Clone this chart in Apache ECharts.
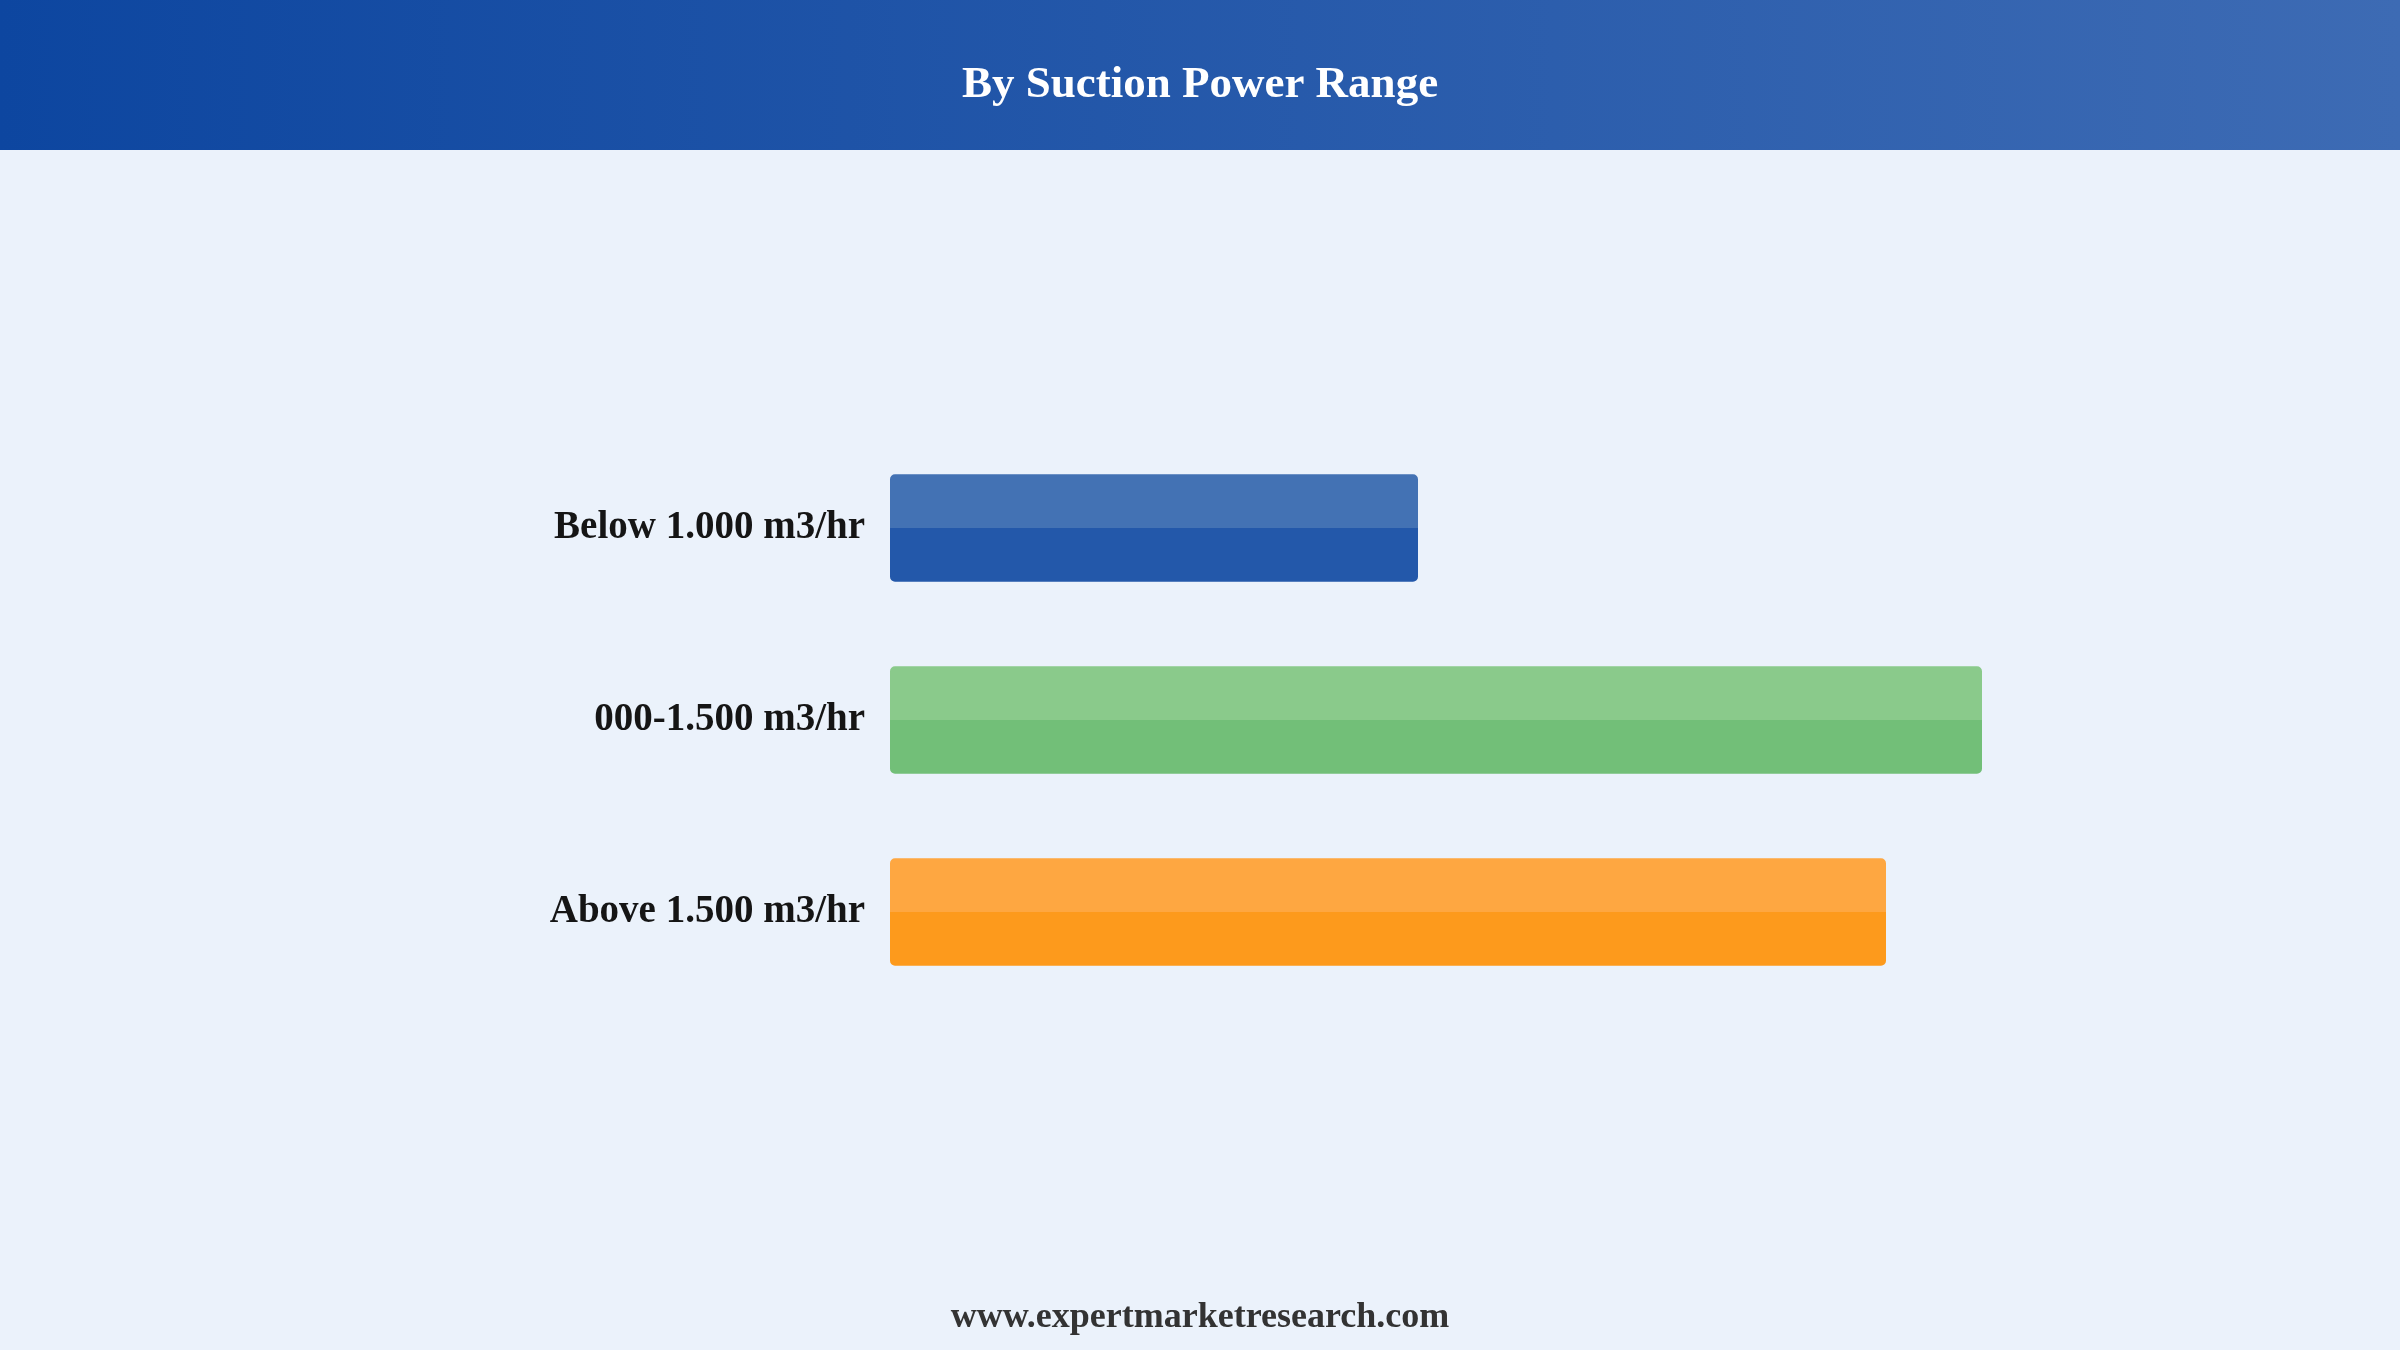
<!DOCTYPE html>
<html>
	<head>
		<meta charset="UTF-8">
		<title>By Suction Power Range</title>
		<style>
			html, body { margin: 0; padding: 0; background: #EBF2FB; }
			#main { width: 2400px; height: 1350px; }
		</style>
	</head>
	<script src="https://cdn.jsdelivr.net/npm/echarts@6/dist/echarts.min.js"></script>
	<body>
		<div id="main"></div>
	</body>
	<script>
		// 数据
		var categories = ['Below 1.000 m3/hr', '000-1.500 m3/hr', 'Above 1.500 m3/hr']
		var values = [44, 91, 83]
		var topColors = ['#4372B4', '#8ACA8B', '#FEA741']
		var bottomColors = ['#2358AA', '#72BF78', '#FD9A1C']

		var myChart = echarts.init(document.getElementById('main'))

		// 上半浅色、下半深色的两段色
		function twoTone (i) {
			return new echarts.graphic.LinearGradient(0, 0, 0, 1, [
				{ offset: 0, color: topColors[i] },
				{ offset: 0.5, color: topColors[i] },
				{ offset: 0.5, color: bottomColors[i] },
				{ offset: 1, color: bottomColors[i] }
			])
		}

		var barData = values.map(function (v, i) {
			return { value: v, itemStyle: { color: twoTone(i) } }
		})

		var option = {
			backgroundColor: '#EBF2FB',
			textStyle: { fontFamily: 'Liberation Serif' },
			graphic: [
				{
					type: 'rect',
					shape: { x: 0, y: 0, width: 2400, height: 150 },
					style: {
						fill: new echarts.graphic.LinearGradient(0, 0, 1, 0, [
							{ offset: 0, color: '#0D46A0' },
							{ offset: 1, color: '#3D6BB4' }
						])
					},
					z: 0
				},
				{
					type: 'text',
					x: 1200, y: 85,
					style: {
						text: 'By Suction Power Range',
						fill: '#fff',
						font: 'bold 45px "Liberation Serif"',
						textAlign: 'center',
						textVerticalAlign: 'middle'
					},
					z: 1
				},
				{
					type: 'text',
					x: 1200, y: 1318,
					style: {
						text: 'www.expertmarketresearch.com',
						fill: '#333',
						font: 'bold 36px "Liberation Serif"',
						textAlign: 'center',
						textVerticalAlign: 'middle'
					}
				}
			],
			grid: { left: 890, right: 310, top: 432, bottom: 342 },
			xAxis: {
				type: 'value',
				min: 0,
				max: 100,
				show: false
			},
			yAxis: {
				type: 'category',
				inverse: true,
				data: categories,
				axisLine: { show: false },
				axisTick: { show: false },
				axisLabel: {
					margin: 25,
					color: '#151515',
					fontSize: 39,
					fontWeight: 'bold',
					fontFamily: 'Liberation Serif',
					padding: [6, 0, 0, 0]
				}
			},
			series: [{
				type: 'bar',
				data: barData,
				barCategoryGap: '44%',
				itemStyle: { borderRadius: 5 },
				silent: true
			}]
		}

		myChart.setOption(option)
	</script>
</html>
